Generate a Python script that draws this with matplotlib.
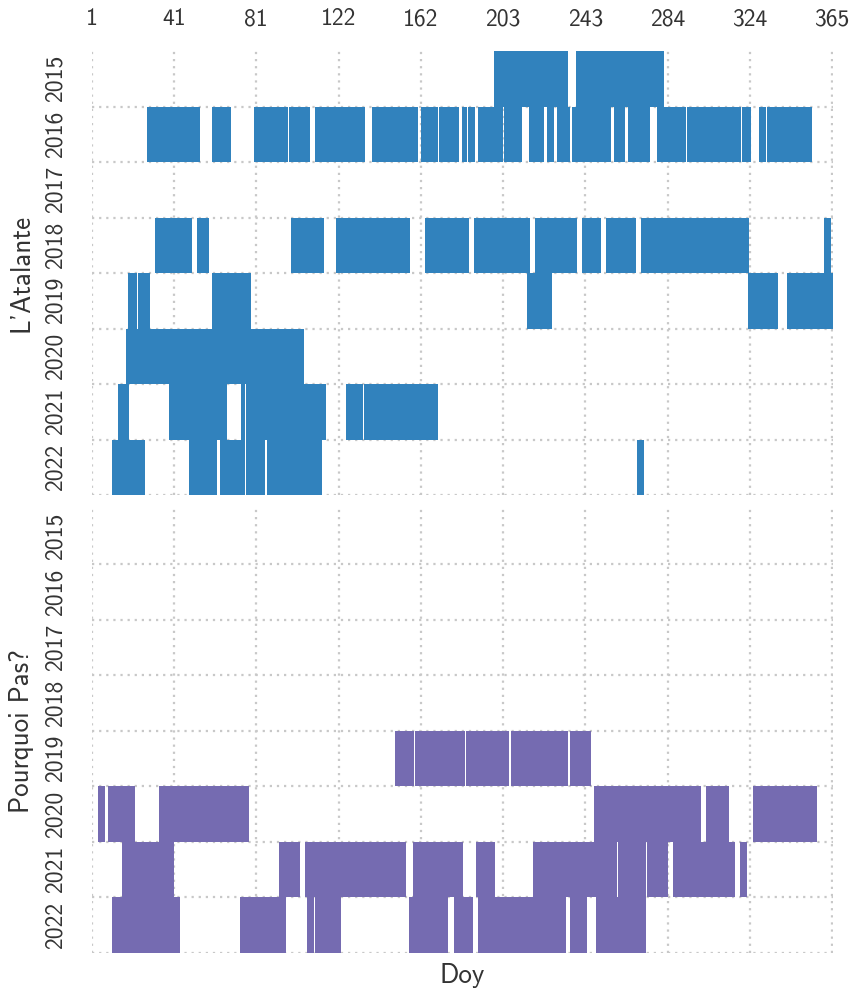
import matplotlib
matplotlib.use("Agg")
import matplotlib.pyplot as plt
import numpy as np

plt.rcParams['font.family'] = ['cmss10', 'DejaVu Sans']
plt.rcParams['axes.unicode_minus'] = False

years = [2015, 2016, 2017, 2018, 2019, 2020, 2021, 2022]
vessels = ["L'Atalante", "Pourquoi Pas?"]
colors = ["#3182bd", "#756bb1"]
xtick_values = np.linspace(1, 365, 10)
xtick_labels = [str(int(v)) for v in xtick_values]

# (start doy, end doy) segments at sea, L'Atalante
ata_2015 = [(198.7, 235.1), (239.0, 282.3)]
ata_2016 = [(28.2, 54.2), (60.1, 69.5), (80.8, 97.5), (98.0, 108.3), (110.8, 135.3),
            (138.8, 161.4), (162.9, 171.2), (171.7, 181.5), (183.0, 185.4), (186.0, 189.4),
            (190.9, 203.2), (203.6, 212.5), (215.9, 223.3), (224.8, 228.2), (229.7, 236.1),
            (237.1, 256.2), (257.7, 263.1), (264.6, 275.4), (278.8, 293.1), (293.6, 320.1),
            (320.6, 325.0), (329.0, 332.4), (332.9, 355.0)]
ata_2017 = []
ata_2018 = [(32.1, 50.3), (52.8, 58.7), (99.0, 115.2), (121.1, 157.4), (164.8, 186.4),
            (188.9, 216.4), (218.9, 239.5), (242.0, 251.3), (253.8, 268.5), (271.0, 324.1),
            (360.9, 364.4)]
ata_2019 = [(18.9, 23.3), (23.8, 29.7), (60.1, 79.3), (214.9, 227.2), (323.6, 338.3),
            (342.7, 365.3)]
ata_2020 = [(17.9, 105.3)]
ata_2021 = [(13.9, 19.3), (39.0, 67.5), (74.4, 76.3), (76.8, 116.2), (126.0, 134.3),
            (134.8, 171.2)]
ata_2022 = [(11.0, 27.2), (48.8, 62.6), (64.1, 76.3), (76.8, 86.2), (87.2, 114.2),
            (269.0, 272.5)]

# (start doy, end doy) segments at sea, Pourquoi Pas?
pp_2015 = []
pp_2016 = []
pp_2017 = []
pp_2018 = []
pp_2019 = [(150.1, 159.4), (159.9, 184.5), (185.0, 206.1), (207.1, 235.1), (236.1, 246.4)]
pp_2020 = [(4.1, 7.5), (9.0, 22.3), (34.1, 78.3), (247.9, 300.5), (302.9, 314.2),
           (326.0, 357.5)]
pp_2021 = [(15.9, 41.5), (93.1, 103.4), (105.8, 155.5), (158.9, 183.5), (189.9, 199.2),
           (217.9, 259.2), (259.7, 273.4), (273.9, 284.2), (286.7, 317.2), (319.6, 323.1)]
pp_2022 = [(11.0, 44.4), (73.9, 96.5), (106.8, 110.3), (110.8, 123.5), (157.0, 176.1),
           (179.1, 188.4), (190.9, 234.1), (236.1, 244.4), (248.9, 273.4)]

segments = [
    [ata_2015, ata_2016, ata_2017, ata_2018, ata_2019, ata_2020, ata_2021, ata_2022],
    [pp_2015, pp_2016, pp_2017, pp_2018, pp_2019, pp_2020, pp_2021, pp_2022],
]

fig = plt.figure(figsize=(8.54, 9.9), dpi=100)
W, H = 854, 990
x0, x1 = 91.7, 833.0
tops = [51.0, 508.7]
axh = 444.0

text_color = "#333333"
fs_tick = 17
fs_label = 19.5
grid_kw = dict(color="#c8c8c8", linestyle=(0, (1, 2.2)), linewidth=1.6)

for k, (name, col, segs) in enumerate(zip(vessels, colors, segments)):
    ax = fig.add_axes([x0 / W, 1 - (tops[k] + axh) / H, (x1 - x0) / W, axh / H])
    for i, row in enumerate(segs):
        if row:
            starts = np.array([s for s, e in row])
            ends = np.array([e for s, e in row])
            ax.barh(np.full(len(row), i), ends - starts, left=starts, height=1.0,
                    align='edge', color=col, edgecolor='none', zorder=3)
    ax.set_xlim(1, 365.4)
    ax.set_ylim(len(years), 0)
    ax.set_yticks(np.arange(len(years)) + 0.5)
    ax.set_yticklabels([str(y) for y in years], rotation=90, va='center',
                       fontsize=fs_tick, color=text_color)
    ax.set_yticks(np.arange(1, len(years) + 1), minor=True)
    ax.set_xticks(xtick_values)
    ax.tick_params(axis='y', which='both', length=0, pad=18)
    ax.tick_params(axis='x', which='both', length=0)
    ax.grid(False)
    ax.xaxis.grid(True, which='major', **grid_kw)
    ax.yaxis.grid(True, which='minor', **grid_kw)
    ax.set_axisbelow(True)
    for sp in ax.spines.values():
        sp.set_visible(False)
    ax.set_ylabel(name, fontsize=fs_label, color=text_color, labelpad=8)
    if k == 0:
        ax.xaxis.tick_top()
        ax.set_xticklabels(xtick_labels, fontsize=fs_tick, color=text_color)
        ax.tick_params(axis='x', pad=15)
    else:
        ax.set_xticklabels([])
        ax.set_xlabel("Doy", fontsize=fs_label, color=text_color, labelpad=4)

fig.savefig("out.png", dpi=100)
